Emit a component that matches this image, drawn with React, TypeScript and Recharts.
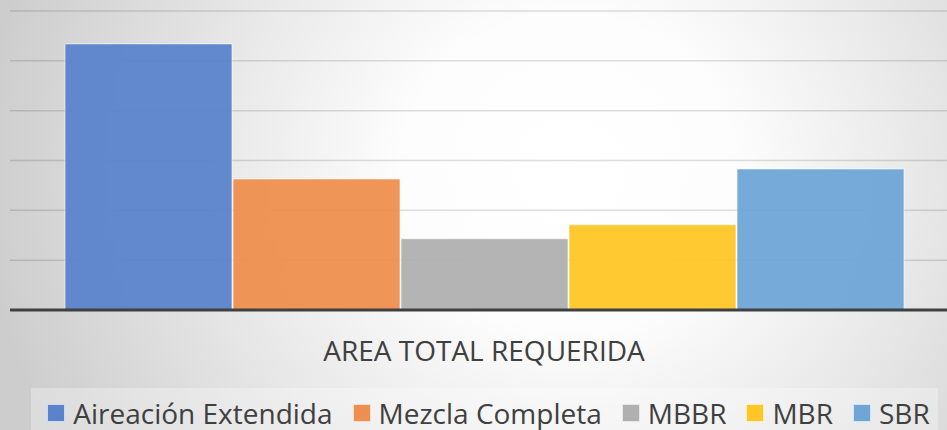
import { BarChart, Bar, XAxis, YAxis, CartesianGrid } from 'recharts';

// one category, five treatment systems
const categories = ['AREA TOTAL REQUERIDA'];
const seriesNames = ['Aireación Extendida', 'Mezcla Completa', 'MBBR', 'MBR', 'SBR'];
const seriesValues = [5.34, 2.63, 1.43, 1.71, 2.83];
const seriesColors = ['#5b83cb', '#ef8f4f', '#b0b0b0', '#ffc627', '#6fa5d7'];
const yTicks = [0, 1, 2, 3, 4, 5, 6];

const data = categories.map((name) => {
    const row: Record<string, string | number> = { name };
    seriesNames.forEach((s, i) => {
        row[s] = seriesValues[i];
    });
    return row;
});

const textColor = '#404040';
const font = '"Open Sans", "Noto Sans", sans-serif';

export default function App() {
    return (
        <div
            style={{
                position: 'absolute',
                left: 0,
                top: 0,
                width: 947,
                height: 430,
                overflow: 'hidden',
                background:
                    'radial-gradient(ellipse 62% 130% at 60% 40%, #ffffff 0%, #fdfdfd 28%, #e8e8e8 60%, #cdcdcd 100%)',
                fontFamily: font,
            }}
        >
            <BarChart
                width={958}
                height={430}
                data={data}
                margin={{ top: 11, right: 0, left: 10, bottom: 0 }}
                barCategoryGap={55}
                barGap={1}
            >
                <CartesianGrid horizontal vertical={false} stroke="rgba(0,0,0,0.13)" strokeWidth={1.5} />
                <YAxis hide domain={[0, 6]} ticks={yTicks} />
                <XAxis
                    dataKey="name"
                    height={120}
                    tickLine={false}
                    axisLine={{ stroke: '#404040', strokeWidth: 3 }}
                    tick={{ fill: textColor, fontSize: 28, fontFamily: font }}
                    tickMargin={25}
                />
                {seriesNames.map((s, i) => (
                    <Bar
                        key={s}
                        dataKey={s}
                        fill={seriesColors[i]}
                        fillOpacity={0.95}
                        stroke="rgba(255,255,255,0.6)"
                        strokeWidth={1}
                        isAnimationActive={false}
                    />
                ))}
            </BarChart>

            <div
                style={{
                    position: 'absolute',
                    left: 31,
                    top: 388,
                    width: 907,
                    height: 42,
                    background: 'rgba(255,255,255,0.3)',
                    display: 'flex',
                    alignItems: 'center',
                    justifyContent: 'center',
                    gap: 20,
                    paddingTop: 8,
                    paddingLeft: 8,
                    boxSizing: 'border-box',
                    color: textColor,
                    fontSize: 28,
                    lineHeight: 1,
                    whiteSpace: 'nowrap',
                }}
            >
                {seriesNames.map((s, i) => (
                    <div key={s} style={{ display: 'flex', alignItems: 'center', gap: 8 }}>
                        <span
                            style={{
                                display: 'inline-block',
                                width: 18,
                                height: 18,
                                background: seriesColors[i],
                                border: '1px solid rgba(255,255,255,0.7)',
                                boxSizing: 'border-box',
                            }}
                        />
                        <span>{s}</span>
                    </div>
                ))}
            </div>
        </div>
    );
}
